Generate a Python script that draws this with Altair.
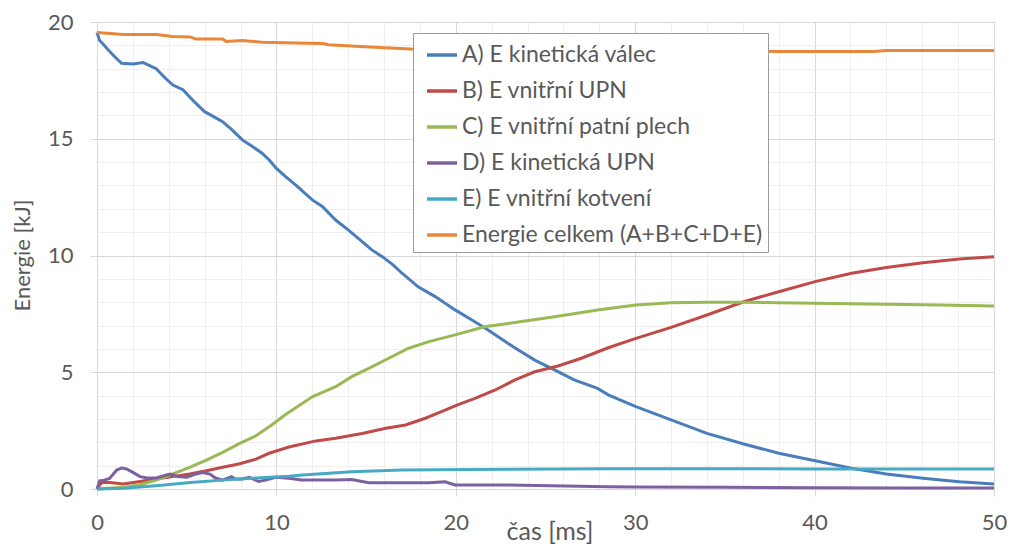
import altair as alt
import pandas as pd

# ---- data ----
names = [
    "A) E kinetická válec",
    "B) E vnitřní UPN",
    "C) E vnitřní patní plech",
    "D) E kinetická UPN",
    "E) E vnitřní kotvení",
    "Energie celkem (A+B+C+D+E)",
]
colors = ["#4A7EBB", "#BE4B48", "#98B954", "#7D60A0", "#46AAC5", "#E8863A"]

tA = [0, 0.15, 0.3, 0.63, 1.0, 1.37, 2.0, 2.57, 3.3, 3.8, 4.23, 4.79, 5.34, 6.0, 6.5, 7.0, 7.5, 8.1, 8.6, 9.2,
      9.6, 10.0, 10.53, 11.1, 12.0, 12.56, 13.3, 14.0, 14.78, 15.3, 15.9, 16.5, 17.0, 17.9, 18.85, 19.96, 20.9,
      21.8, 22.9, 23.6, 24.4, 25.5, 26.6, 27.9, 28.5, 30.04, 32.0, 34.0, 36.05, 38.0, 40.03, 42.06, 44.0, 46.04,
      48.07, 50.0]
eA = [19.55, 19.2, 19.09, 18.8, 18.5, 18.23, 18.2, 18.26, 18.0, 17.6, 17.3, 17.1, 16.65, 16.16, 15.95, 15.73,
      15.4, 14.95, 14.7, 14.38, 14.09, 13.73, 13.37, 13.0, 12.38, 12.1, 11.52, 11.1, 10.59, 10.25, 9.95, 9.6,
      9.24, 8.66, 8.24, 7.67, 7.24, 6.81, 6.24, 5.9, 5.52, 5.10, 4.67, 4.31, 4.03, 3.53, 2.96, 2.38, 1.93, 1.53,
      1.21, 0.89, 0.64, 0.46, 0.31, 0.21]

tB = [0, 0.26, 0.7, 1.46, 2.4, 3.3, 4.2, 5.16, 6.1, 7.0, 7.9, 8.86, 9.6, 10.7, 12.2, 13.3, 14.78, 16.1, 17.2,
      18.3, 19.2, 20.1, 21.07, 22.2, 23.3, 24.4, 25.7, 27.0, 28.5, 30.04, 32.0, 34.0, 36.05, 38.0, 40.03, 42.06,
      44.0, 46.04, 48.07, 50.0]
eB = [0, 0.28, 0.28, 0.21, 0.32, 0.43, 0.53, 0.64, 0.78, 0.93, 1.07, 1.28, 1.53, 1.8, 2.06, 2.17, 2.38, 2.6,
      2.74, 3.03, 3.31, 3.6, 3.88, 4.24, 4.67, 5.02, 5.27, 5.6, 6.05, 6.45, 6.92, 7.45, 8.02, 8.45, 8.88, 9.24,
      9.49, 9.69, 9.85, 9.95]

tC = [0, 1.46, 2.4, 3.3, 4.2, 5.16, 6.1, 7.0, 7.9, 8.86, 9.7, 10.53, 12.0, 13.3, 14.2, 15.15, 16.26, 17.37,
      18.5, 19.96, 21.6, 23.66, 25.5, 28.0, 30.04, 32.0, 34.0, 36.0, 40.0, 44.0, 47.0, 50.0]
eC = [0, 0.07, 0.18, 0.38, 0.64, 0.93, 1.24, 1.57, 1.93, 2.28, 2.72, 3.2, 3.95, 4.38, 4.81, 5.17, 5.6, 6.03,
      6.31, 6.6, 6.95, 7.17, 7.38, 7.68, 7.88, 7.98, 8.0, 8.0, 7.95, 7.91, 7.88, 7.84]

tD = [0, 0.15, 0.4, 0.7, 1.1, 1.37, 1.65, 2.0, 2.4, 2.8, 3.3, 3.87, 4.1, 4.5, 5.0, 5.5, 5.9, 6.3, 6.6, 7.0,
      7.5, 7.7, 8.1, 8.5, 9.0, 9.4, 9.97, 10.7, 11.4, 13.3, 14.2, 15.15, 18.5, 19.4, 19.96, 22.9, 28.5, 30, 35,
      40, 45, 50]
eD = [0, 0.35, 0.38, 0.45, 0.81, 0.9, 0.86, 0.71, 0.53, 0.47, 0.47, 0.6, 0.64, 0.53, 0.5, 0.64, 0.71, 0.64,
      0.47, 0.38, 0.53, 0.43, 0.43, 0.5, 0.32, 0.38, 0.5, 0.46, 0.39, 0.39, 0.41, 0.27, 0.27, 0.31, 0.17, 0.17,
      0.1, 0.09, 0.07, 0.05, 0.04, 0.04]

tE = [0, 1.46, 3.3, 5.2, 7.0, 8.86, 10.7, 11.45, 14.2, 17.0, 20.7, 28.5, 35, 40, 45, 50]
eE = [0, 0.03, 0.14, 0.28, 0.38, 0.47, 0.55, 0.6, 0.74, 0.81, 0.84, 0.87, 0.87, 0.86, 0.86, 0.86]

tT = [0, 1.46, 3.3, 4.2, 5.2, 5.5, 7.0, 7.2, 8.1, 9.2, 11.1, 12.6, 12.9, 14.4, 16.3, 17.5, 25, 30, 38, 43.3,
      44.0, 50]
eT = [19.55, 19.46, 19.46, 19.38, 19.36, 19.27, 19.27, 19.17, 19.21, 19.13, 19.1, 19.08, 19.03, 18.96, 18.89,
      18.84, 18.8, 18.77, 18.74, 18.74, 18.78, 18.78]

x_grid = list(range(0, 51, 2))
y_grid = list(range(0, 21, 1))

series = [(tA, eA), (tB, eB), (tC, eC), (tD, eD), (tE, eE), (tT, eT)]
rows = []
for name, (ts, es) in zip(names, series):
    for i, (t, e) in enumerate(zip(ts, es)):
        rows.append({"t": t, "E": e, "s": name, "i": i})
df = pd.DataFrame(rows)

FONT = "Lato"
TXT = "#595959"
MAJ = "#d9d9d9"
MIN = "#efefef"
W = 897

x_axis = alt.Axis(
    values=x_grid,
    labelExpr="datum.value % 10 === 0 ? datum.label : ''",
    gridColor={"condition": {"test": "datum.value % 10 === 0", "value": MAJ}, "value": MIN},
    tickColor={"condition": {"test": "datum.value % 10 === 0", "value": MAJ}, "value": "transparent"},
    tickSize=7,
    domainColor=MAJ,
    labelFontSize=22,
    labelFont=FONT,
    labelColor=TXT,
    labelPadding=16,
    labelFlush=False,
    title="čas [ms]",
    titleFont=FONT,
    titleFontSize=25,
    titleFontWeight="normal",
    titleColor=TXT,
    titleX=W / 2 + 4,
    titleY=42,
    titleBaseline="middle",
)
y_axis = alt.Axis(
    values=y_grid,
    labelExpr="datum.value % 5 === 0 ? datum.label : ''",
    gridColor={"condition": {"test": "datum.value % 5 === 0", "value": MAJ}, "value": MIN},
    tickColor={"condition": {"test": "datum.value % 5 === 0", "value": MAJ}, "value": "transparent"},
    tickSize=7,
    domainColor=MAJ,
    labelFontSize=22,
    labelFont=FONT,
    labelColor=TXT,
    labelPadding=17,
    labelFlush=False,
    title="Energie [kJ]",
    titleFont=FONT,
    titleFontSize=22,
    titleFontWeight="normal",
    titleColor=TXT,
    titleX=-75,
    titleY=233,
    titleAngle=-90,
    titleBaseline="middle",
)

chart = alt.Chart(df).mark_line(strokeWidth=3, interpolate="linear").encode(
    x=alt.X("t:Q", scale=alt.Scale(domain=[0, 50], nice=False), axis=x_axis),
    y=alt.Y("E:Q", scale=alt.Scale(domain=[0, 20], nice=False), axis=y_axis),
    color=alt.Color(
        "s:N",
        scale=alt.Scale(domain=names, range=colors),
        sort=names,
        legend=alt.Legend(
            title=None,
            orient="none",
            legendX=316,
            legendY=11,
            fillColor="white",
            strokeColor="#9a9a9a",
            padding=5,
            symbolOffset=7,
            symbolType="stroke",
            symbolSize=900,
            symbolStrokeWidth=3.5,
            labelFont=FONT,
            labelFontSize=23,
            labelColor=TXT,
            labelOffset=3,
            rowPadding=7,
            labelLimit=500,
        ),
    ),
    order="i:Q",
).properties(
    width=W,
    height=467,
    autosize=alt.AutoSizeParams(type="none"),
    padding={"left": 89, "top": 14, "right": 13, "bottom": 58},
).configure_view(stroke=None).configure(background="white")

chart.save("out.html", embed_options={"renderer": "svg", "actions": False})
